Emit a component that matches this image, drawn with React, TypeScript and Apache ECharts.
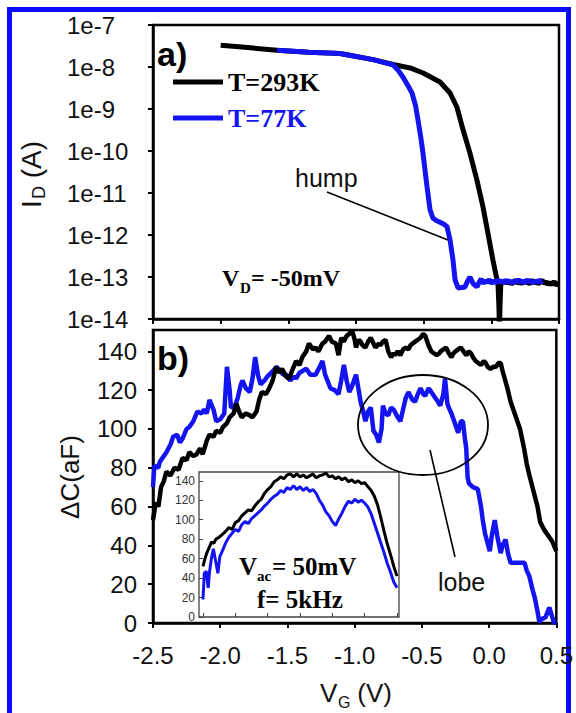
import React, { useEffect, useRef } from 'react';
import * as echarts from 'echarts';

const BLUE = '#1414f0';
const BORDER = '#0a0aff';
const SANS = 'Liberation Sans, Arial, sans-serif';
const SERIF = 'Liberation Serif, Times New Roman, serif';

// Panel a: drain current I_D (A) vs V_G (V)
const currentT293: [number, number][] = [
  [-2.0, 3.3e-8], [-1.8, 2.9e-8], [-1.584, 2.5e-8], [-1.35, 2.25e-8], [-1.118, 2.1e-8],
  [-0.874, 1.5e-8], [-0.726, 1.15e-8], [-0.6, 9.5e-9], [-0.504, 7.2e-9], [-0.379, 4.4e-9],
  [-0.305, 2.4e-9], [-0.254, 1.1e-9], [-0.209, 3.2e-10], [-0.158, 8.9e-11], [-0.106, 2.0e-11],
  [-0.062, 4.7e-12], [-0.025, 1.1e-12], [0.012, 2.5e-13], [0.042, 8.5e-14], [0.05, 6e-14],
  [0.056, 2e-14], [0.06, 5e-15], [0.064, 2e-14], [0.07, 7e-14],
  [0.075, 8.0e-14], [0.09, 7.2e-14], [0.105, 8.3e-14], [0.12, 7.0e-14], [0.135, 7.9e-14],
  [0.15, 6.8e-14], [0.165, 7.6e-14], [0.18, 8.4e-14], [0.195, 7.1e-14], [0.21, 7.7e-14],
  [0.225, 6.9e-14], [0.24, 8.1e-14], [0.255, 7.3e-14], [0.27, 7.8e-14], [0.285, 6.7e-14],
  [0.3, 8.6e-14], [0.315, 7.2e-14], [0.33, 7.9e-14], [0.345, 6.9e-14], [0.36, 7.6e-14],
  [0.375, 8.5e-14], [0.39, 7.0e-14], [0.405, 7.7e-14], [0.42, 6.6e-14], [0.435, 7.4e-14],
  [0.45, 6.5e-14], [0.465, 7.9e-14], [0.48, 6.4e-14], [0.5, 7.0e-14],
];
const currentT77: [number, number][] = [
  [-1.584, 2.5e-8], [-1.35, 2.25e-8], [-1.118, 2.1e-8], [-0.874, 1.5e-8], [-0.726, 1.12e-8],
  [-0.69, 8.5e-9], [-0.653, 5.8e-9], [-0.62, 3.8e-9], [-0.586, 2.4e-9], [-0.56, 1.2e-9],
  [-0.542, 5.5e-10], [-0.52, 2.0e-10], [-0.505, 8.9e-11], [-0.49, 3.5e-11], [-0.475, 1.4e-11],
  [-0.453, 4.0e-12], [-0.431, 2.5e-12], [-0.405, 2.2e-12], [-0.379, 2.0e-12], [-0.35, 1.8e-12],
  [-0.328, 1.6e-12], [-0.305, 7.6e-13], [-0.283, 2.5e-13], [-0.268, 8.5e-14], [-0.246, 5.5e-14],
  [-0.22, 5.6e-14], [-0.195, 5.8e-14], [-0.175, 8.0e-14], [-0.158, 1.0e-13], [-0.135, 7.0e-14],
  [-0.106, 5.8e-14], [-0.09, 7.5e-14], [-0.075, 9.0e-14], [-0.06, 7.0e-14], [-0.045, 8.2e-14],
  [-0.03, 7.4e-14], [-0.015, 8.8e-14], [0.0, 7.1e-14], [0.02, 8.0e-14], [0.035, 7.3e-14],
  [0.05, 8.6e-14], [0.065, 7.5e-14], [0.08, 8.1e-14], [0.095, 7.2e-14], [0.11, 8.4e-14],
  [0.125, 7.6e-14], [0.14, 8.0e-14], [0.155, 7.0e-14], [0.17, 8.3e-14], [0.185, 7.4e-14],
  [0.2, 8.7e-14], [0.215, 7.6e-14], [0.23, 8.0e-14], [0.245, 7.2e-14], [0.26, 8.5e-14],
  [0.275, 7.8e-14], [0.29, 8.2e-14], [0.305, 7.3e-14], [0.32, 8.0e-14], [0.335, 7.5e-14],
  [0.35, 8.3e-14], [0.365, 7.7e-14], [0.38, 8.0e-14],
];

// Panel b: ΔC (aF) vs V_G (V)
const capT293: [number, number][] = [
  [-2.5, 53], [-2.48, 62], [-2.46, 60], [-2.44, 70], [-2.42, 73], [-2.4, 78], [-2.37, 76], [-2.34, 80],
  [-2.31, 79], [-2.28, 85], [-2.25, 84], [-2.23, 88], [-2.2, 86], [-2.175, 87], [-2.15, 90], [-2.13, 87],
  [-2.1, 94], [-2.08, 97], [-2.05, 96], [-2.03, 99], [-2.0, 98], [-1.98, 101], [-1.95, 103], [-1.93, 106],
  [-1.9, 108], [-1.88, 113], [-1.86, 109], [-1.84, 106], [-1.81, 108], [-1.78, 107], [-1.76, 106], [-1.73, 109],
  [-1.71, 115], [-1.69, 119], [-1.66, 118], [-1.635, 121], [-1.61, 125], [-1.584, 132], [-1.56, 129], [-1.54, 131],
  [-1.51, 127], [-1.488, 126], [-1.46, 131], [-1.436, 135], [-1.41, 133], [-1.39, 137], [-1.36, 140], [-1.34, 144],
  [-1.31, 141], [-1.29, 142], [-1.27, 140], [-1.24, 144], [-1.22, 145], [-1.19, 148], [-1.17, 145], [-1.14, 144],
  [-1.12, 138], [-1.1, 147], [-1.08, 145], [-1.06, 148], [-1.04, 149], [-1.02, 151], [-1.0, 146], [-0.99, 142],
  [-0.97, 146], [-0.956, 145], [-0.94, 143], [-0.92, 142], [-0.9, 145], [-0.88, 147], [-0.86, 144], [-0.845, 142],
  [-0.82, 144], [-0.81, 143], [-0.79, 145], [-0.77, 146], [-0.75, 140], [-0.73, 137], [-0.71, 139], [-0.7, 138],
  [-0.68, 140], [-0.66, 138], [-0.64, 141], [-0.62, 142], [-0.6, 141], [-0.586, 143], [-0.57, 144], [-0.55, 145],
  [-0.53, 146], [-0.51, 147], [-0.49, 149], [-0.475, 148], [-0.46, 145], [-0.45, 143], [-0.43, 140], [-0.41, 139],
  [-0.39, 138], [-0.37, 139], [-0.36, 140], [-0.34, 141], [-0.32, 142], [-0.3, 139], [-0.28, 137], [-0.265, 139],
  [-0.25, 140], [-0.23, 141], [-0.21, 142], [-0.19, 140], [-0.17, 138], [-0.15, 140], [-0.135, 139], [-0.12, 137],
  [-0.1, 135], [-0.08, 134], [-0.06, 133], [-0.04, 135], [-0.025, 134], [-0.01, 132], [0.01, 131], [0.03, 132],
  [0.05, 132], [0.07, 134], [0.086, 134], [0.1, 130], [0.116, 126], [0.14, 120], [0.16, 114], [0.18, 110],
  [0.2, 106], [0.23, 100], [0.26, 90], [0.28, 82], [0.3, 76], [0.33, 68], [0.36, 60], [0.38, 52],
  [0.41, 48], [0.44, 45], [0.47, 42], [0.5, 37],
];
const capT77: [number, number][] = [
  [-2.5, 70], [-2.49, 81], [-2.46, 80], [-2.45, 83], [-2.42, 86], [-2.4, 88], [-2.37, 92], [-2.35, 96],
  [-2.32, 97], [-2.3, 93], [-2.28, 95], [-2.25, 100], [-2.23, 101], [-2.2, 104], [-2.17, 109], [-2.14, 108],
  [-2.12, 110], [-2.1, 108], [-2.08, 115], [-2.05, 110], [-2.03, 104], [-2.0, 105], [-1.97, 108], [-1.95, 132],
  [-1.93, 120], [-1.92, 111], [-1.89, 112], [-1.87, 116], [-1.85, 122], [-1.835, 125], [-1.81, 121], [-1.78, 119],
  [-1.76, 126], [-1.74, 137], [-1.72, 128], [-1.7, 123], [-1.67, 125], [-1.65, 127], [-1.62, 129], [-1.58, 132],
  [-1.56, 130], [-1.53, 128], [-1.51, 128], [-1.48, 125], [-1.45, 127], [-1.436, 126], [-1.41, 129], [-1.36, 131],
  [-1.33, 128], [-1.29, 128], [-1.26, 132], [-1.24, 135], [-1.22, 128], [-1.18, 121], [-1.15, 120], [-1.12, 118],
  [-1.1, 125], [-1.08, 133], [-1.06, 125], [-1.04, 119], [-1.02, 122], [-0.99, 128], [-0.97, 120], [-0.956, 114],
  [-0.94, 110], [-0.92, 104], [-0.9, 109], [-0.88, 111], [-0.86, 99], [-0.84, 97], [-0.82, 93], [-0.8, 100],
  [-0.79, 112], [-0.77, 108], [-0.75, 107], [-0.73, 111], [-0.71, 110], [-0.68, 106], [-0.66, 104], [-0.64, 110],
  [-0.62, 116], [-0.6, 119], [-0.585, 117], [-0.57, 115], [-0.55, 114], [-0.53, 118], [-0.51, 121], [-0.49, 118],
  [-0.475, 117], [-0.45, 121], [-0.44, 120], [-0.42, 118], [-0.4, 116], [-0.38, 114], [-0.364, 112], [-0.34, 118],
  [-0.328, 126], [-0.31, 113], [-0.3, 111], [-0.28, 108], [-0.27, 106], [-0.25, 102], [-0.23, 98], [-0.21, 104],
  [-0.195, 104], [-0.18, 95], [-0.17, 90], [-0.16, 75], [-0.15, 72], [-0.12, 70], [-0.084, 69], [-0.06, 60],
  [-0.047, 53], [-0.03, 46], [0.005, 37], [0.02, 45], [0.042, 53], [0.06, 45], [0.086, 36], [0.1, 40],
  [0.123, 43], [0.14, 36], [0.16, 31], [0.2, 31], [0.264, 31], [0.28, 27], [0.3, 24], [0.32, 18],
  [0.34, 13], [0.36, 6], [0.374, 0.5], [0.39, 2], [0.42, 3], [0.448, 8], [0.47, 3], [0.485, 0], [0.5, 0],
];

// Inset: ΔC (aF) at V_ac = 50 mV, f = 5 kHz
const insetT293: [number, number][] = [
  [-2.5, 52], [-2.47, 60], [-2.44, 66], [-2.4, 72], [-2.37, 77], [-2.33, 76], [-2.3, 80], [-2.25, 82],
  [-2.2, 85], [-2.15, 88], [-2.1, 92], [-2.05, 90], [-2.0, 97], [-1.95, 99], [-1.9, 104], [-1.85, 107],
  [-1.8, 110], [-1.75, 109], [-1.7, 114], [-1.65, 118], [-1.6, 121], [-1.55, 127], [-1.5, 131], [-1.45, 134],
  [-1.4, 139], [-1.35, 141], [-1.3, 144], [-1.25, 142], [-1.2, 146], [-1.15, 147], [-1.1, 144], [-1.05, 147],
  [-1.0, 144], [-0.95, 146], [-0.9, 143], [-0.85, 145], [-0.8, 147], [-0.75, 143], [-0.7, 145], [-0.65, 146],
  [-0.6, 148], [-0.55, 144], [-0.5, 145], [-0.45, 142], [-0.4, 144], [-0.35, 141], [-0.3, 143], [-0.25, 139],
  [-0.2, 141], [-0.15, 138], [-0.1, 140], [-0.05, 137], [0.0, 138], [0.05, 134], [0.1, 130], [0.15, 124],
  [0.2, 115], [0.25, 102], [0.3, 88], [0.35, 75], [0.4, 64], [0.45, 52], [0.5, 42],
];
const insetT77: [number, number][] = [
  [-2.5, 18], [-2.48, 45], [-2.45, 47], [-2.42, 30], [-2.4, 46], [-2.37, 60], [-2.34, 70], [-2.3, 56],
  [-2.27, 45], [-2.24, 62], [-2.2, 68], [-2.15, 76], [-2.1, 82], [-2.05, 86], [-2.0, 90], [-1.95, 88],
  [-1.9, 95], [-1.85, 98], [-1.8, 96], [-1.75, 101], [-1.7, 104], [-1.65, 107], [-1.6, 110], [-1.55, 114],
  [-1.5, 117], [-1.45, 121], [-1.4, 124], [-1.35, 126], [-1.3, 130], [-1.25, 128], [-1.2, 133], [-1.15, 131],
  [-1.1, 135], [-1.05, 131], [-1.0, 134], [-0.95, 130], [-0.9, 133], [-0.85, 129], [-0.8, 131], [-0.75, 127],
  [-0.7, 120], [-0.65, 115], [-0.6, 108], [-0.55, 104], [-0.5, 98], [-0.45, 94], [-0.4, 101], [-0.35, 107],
  [-0.3, 114], [-0.25, 119], [-0.2, 117], [-0.15, 121], [-0.1, 118], [-0.05, 120], [0.0, 117], [0.05, 113],
  [0.1, 106], [0.15, 96], [0.2, 86], [0.25, 76], [0.3, 66], [0.35, 55], [0.4, 46], [0.45, 36], [0.5, 30],
];

const seriesNames = ['T=293K', 'T=77K'];

function txt(x: number, y: number, text: string, size: number, opts: any = {}) {
  return {
    type: 'text',
    x,
    y,
    rotation: opts.rotation || 0,
    z: 100,
    style: {
      text,
      fontSize: size,
      fontFamily: opts.family || SANS,
      fontWeight: opts.weight || 'normal',
      fill: opts.color || '#111',
      align: opts.align || 'left',
      verticalAlign: 'middle',
    },
  };
}

export default function App() {
  const ref = useRef<HTMLDivElement>(null);
  useEffect(() => {
    if (!ref.current) return;
    const chart = echarts.init(ref.current, undefined, { renderer: 'svg' });
    const tickStyle = { show: true, length: 5, lineStyle: { color: '#000', width: 2 } };
    const axisLine = { show: true, onZero: false, lineStyle: { color: '#000', width: 2.5 } };
    const insetTick = { show: true, inside: true, length: 4, lineStyle: { color: '#444', width: 1 } };
    const option: any = {
      animation: false,
      backgroundColor: '#fff',
      textStyle: { fontFamily: SANS },
      grid: [
        { left: 153, top: 25, width: 406, height: 294, show: true, borderColor: '#000', borderWidth: 2.5 },
        { left: 153, top: 330, width: 406, height: 293, show: true, borderColor: '#000', borderWidth: 2.5 },
        { left: 203, top: 472, width: 194, height: 145, show: false },
      ],
      legend: {
        data: [
          { name: seriesNames[0], textStyle: { color: '#000' } },
          { name: seriesNames[1], textStyle: { color: BLUE } },
        ],
        orient: 'vertical',
        left: 173,
        top: 69,
        padding: 0,
        itemWidth: 50,
        itemHeight: 5,
        itemGap: 10,
        icon: 'rect',
        selectedMode: false,
        textStyle: { fontFamily: SERIF, fontWeight: 'bold', fontSize: 26 },
      },
      xAxis: [
        {
          gridIndex: 0, type: 'value', min: -2.5, max: 0.5, interval: 0.5,
          axisLine, axisTick: tickStyle, axisLabel: { show: false }, splitLine: { show: false },
        },
        {
          gridIndex: 1, type: 'value', min: -2.5, max: 0.5, interval: 0.5,
          axisLine, axisTick: tickStyle, splitLine: { show: false },
          axisLabel: { fontSize: 24, color: '#111', margin: 20, formatter: (v: number) => v.toFixed(1) },
        },
        {
          gridIndex: 2, type: 'value', min: -2.5, max: 0.5, interval: 0.5, z: 60,
          axisLine: { show: false, onZero: false }, axisLabel: { show: false }, splitLine: { show: false },
          axisTick: insetTick,
        },
      ],
      yAxis: [
        {
          gridIndex: 0, type: 'log', logBase: 10, min: 1e-14, max: 1e-7, splitNumber: 7,
          axisLine, axisTick: tickStyle, splitLine: { show: false }, minorTick: { show: false },
          axisLabel: {
            fontSize: 24, color: '#111', align: 'left', margin: 86,
            formatter: (v: number) => '1e' + Math.round(Math.log10(v)),
          },
        },
        {
          gridIndex: 1, type: 'value', min: 0, max: 151, interval: 20,
          axisLine, axisTick: tickStyle, splitLine: { show: false },
          axisLabel: {
            fontSize: 24, color: '#111', margin: 16, showMaxLabel: false,
            formatter: (v: number) => (Math.round(v) % 20 === 0 ? String(Math.round(v)) : ''),
          },
        },
        {
          gridIndex: 2, type: 'value', min: 0, max: 149, interval: 20, offset: 4, z: 60,
          axisLine: { show: false, onZero: false }, splitLine: { show: false },
          axisTick: insetTick,
          axisLabel: {
            fontSize: 12, color: '#333', margin: 4, showMaxLabel: false,
            formatter: (v: number) => (Math.round(v) % 20 === 0 ? String(Math.round(v)) : ''),
          },
        },
      ],
      series: [
        {
          name: seriesNames[0], type: 'line', xAxisIndex: 0, yAxisIndex: 0, data: currentT293,
          showSymbol: false, symbol: 'none', color: '#000', lineStyle: { color: '#000', width: 5 }, z: 3,
        },
        {
          name: seriesNames[1], type: 'line', xAxisIndex: 0, yAxisIndex: 0, data: currentT77,
          showSymbol: false, symbol: 'none', color: BLUE, lineStyle: { color: BLUE, width: 5 }, z: 4,
        },
        {
          name: 'ΔC 77K', type: 'line', xAxisIndex: 1, yAxisIndex: 1, data: capT77,
          showSymbol: false, symbol: 'none', color: BLUE, lineStyle: { color: BLUE, width: 4.5 }, z: 3,
        },
        {
          name: 'ΔC 293K', type: 'line', xAxisIndex: 1, yAxisIndex: 1, data: capT293,
          showSymbol: false, symbol: 'none', color: '#000', lineStyle: { color: '#000', width: 4.5 }, z: 4,
        },
        {
          name: 'inset 77K', type: 'line', xAxisIndex: 2, yAxisIndex: 2, data: insetT77,
          showSymbol: false, symbol: 'none', color: BLUE, lineStyle: { color: BLUE, width: 3 }, z: 60,
        },
        {
          name: 'inset 293K', type: 'line', xAxisIndex: 2, yAxisIndex: 2, data: insetT293,
          showSymbol: false, symbol: 'none', color: '#000', lineStyle: { color: '#000', width: 3 }, z: 61,
        },
      ],
      graphic: {
        elements: [
          { type: 'rect', z: 0, shape: { x: 7, y: 7, width: 5, height: 706 }, style: { fill: BORDER } },
          { type: 'rect', z: 0, shape: { x: 7, y: 7, width: 564, height: 5 }, style: { fill: BORDER } },
          { type: 'rect', z: 0, shape: { x: 566, y: 7, width: 5, height: 706 }, style: { fill: BORDER } },
          {
            type: 'rect', z: 50, shape: { x: 199, y: 472, width: 200, height: 145 },
            style: { fill: '#fff', stroke: '#444', lineWidth: 1.3 },
          },
          txt(157, 54, 'a)', 34, { weight: 'bold', color: '#000' }),
          txt(157, 358, 'b)', 34, { weight: 'bold', color: '#000' }),
          txt(295, 178, 'hump', 25),
          { type: 'line', z: 100, shape: { x1: 327, y1: 192, x2: 448, y2: 240 }, style: { stroke: '#000', lineWidth: 1.6 } },
          txt(222, 278, 'V', 24, { family: SERIF, weight: 'bold', color: '#000' }),
          txt(240, 288, 'D', 15, { family: SERIF, weight: 'bold', color: '#000' }),
          txt(251, 278, '= -50mV', 24, { family: SERIF, weight: 'bold', color: '#000' }),
          {
            type: 'ellipse', z: 100, shape: { cx: 423, cy: 425, rx: 65, ry: 50 },
            style: { fill: 'none', stroke: '#000', lineWidth: 1.8 },
          },
          { type: 'line', z: 100, shape: { x1: 430, y1: 450, x2: 455, y2: 557 }, style: { stroke: '#000', lineWidth: 1.6 } },
          txt(438, 582, 'lobe', 25),
          txt(239, 566, 'V', 25, { family: SERIF, weight: 'bold', color: '#000' }),
          txt(257, 576, 'ac', 15, { family: SERIF, weight: 'bold', color: '#000' }),
          txt(272, 566, '= 50mV', 25, { family: SERIF, weight: 'bold', color: '#000' }),
          txt(257, 599, 'f= 5kHz', 25, { family: SERIF, weight: 'bold', color: '#000' }),
          txt(31, 208, 'I', 28, { rotation: Math.PI / 2 }),
          txt(39, 199, 'D', 18, { rotation: Math.PI / 2 }),
          txt(31, 186, ' (A)', 28, { rotation: Math.PI / 2 }),
          txt(70, 477, 'ΔC(aF)', 26, { rotation: Math.PI / 2, align: 'center' }),
          txt(320, 693, 'V', 26),
          txt(338, 702, 'G', 16),
          txt(350, 693, ' (V)', 26),
        ],
      },
    };
    chart.setOption(option);
    return () => chart.dispose();
  }, []);
  return (
    <div
      ref={ref}
      style={{ position: 'fixed', left: 0, top: 0, width: 576, height: 713, background: '#fff' }}
    />
  );
}
